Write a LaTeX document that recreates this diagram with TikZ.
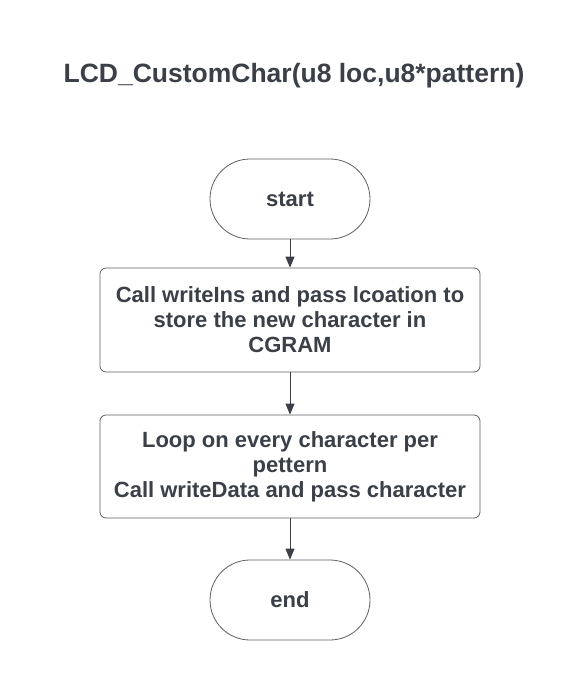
\documentclass[tikz,border=0pt]{standalone}
\usepackage{fontspec}
\setmainfont{Liberation Sans}
\usetikzlibrary{arrows.meta}
\definecolor{txt}{HTML}{3A3F48}
\definecolor{edge}{HTML}{5E6068}
\tikzset{
  term/.style={draw=edge, line width=0.8pt, rounded corners=40pt, minimum width=160pt, minimum height=80pt, font=\bfseries\fontsize{22}{25}\selectfont, text=txt, align=center},
  proc/.style={draw=edge, line width=0.8pt, rounded corners=6pt, minimum width=380pt, minimum height=104pt, font=\bfseries\fontsize{22}{25}\selectfont, text=txt, align=center, inner sep=0pt},
  conn/.style={draw=txt, line width=1pt, -{Triangle[length=11pt,width=9pt]}}
}
\begin{document}
\begin{tikzpicture}[x=1pt,y=-1pt]
\useasboundingbox (0,0) rectangle (580,681);
\fill[white] (0,0) rectangle (580,681);
\node[font=\bfseries\fontsize{26.5}{30}\selectfont, text=txt] (title) at (294,76) {LCD\_CustomChar(u8 loc,u8*pattern)};
\node[term] (start) at (290,199) {start};
\node[proc] (p1) at (290,320) {Call writeIns and pass lcoation to\\store the new character in\\CGRAM};
\node[proc, minimum height=103pt] (p2) at (290,466.5) {Loop on every character per\\pettern\\Call writeData and pass character};
\node[term] (end) at (290,600) {end};
\draw[conn] (start) -- (p1);
\draw[conn] (p1) -- (p2);
\draw[conn] (p2) -- (end);
\end{tikzpicture}
\end{document}
